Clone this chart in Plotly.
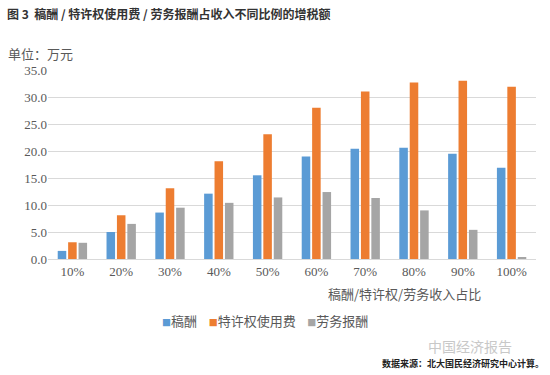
import plotly.graph_objects as go

categories = ["10%", "20%", "30%", "40%", "50%", "60%", "70%", "80%", "90%", "100%"]
gaochou = [1.5, 5.0, 8.6, 12.1, 15.5, 19.0, 20.4, 20.6, 19.5, 16.9]
texuquan = [3.1, 8.1, 13.1, 18.1, 23.1, 28.0, 31.0, 32.7, 33.0, 31.9]
laowu = [3.0, 6.5, 9.5, 10.4, 11.4, 12.4, 11.3, 9.0, 5.4, 0.2]
series_names = ["稿酬", "特许权使用费", "劳务报酬"]
colors = ["#5B9BD5", "#ED7D31", "#A5A5A5"]

serif = "Liberation Serif, DejaVu Serif, Noto Sans CJK SC, serif"
cjk = "Noto Sans CJK SC"

fig = go.Figure()
for name, vals, c in zip(series_names, [gaochou, texuquan, laowu], colors):
    fig.add_trace(go.Bar(x=categories, y=vals, name=name, marker=dict(color=c, line=dict(width=0))))

fig.update_layout(
    width=550, height=375,
    margin=dict(l=48, r=14, t=70, b=116),
    paper_bgcolor="white", plot_bgcolor="white",
    barmode="group", bargap=0.36, bargroupgap=0.18,
    showlegend=False,
    font=dict(family=serif, color="#595959"),
)
fig.update_xaxes(showgrid=False, showline=True, linecolor="#D9D9D9", ticks="",
                 tickfont=dict(family=serif, size=13, color="#595959"))
fig.update_yaxes(range=[0, 35], dtick=5, tickformat=".1f", showgrid=True, gridcolor="#D9D9D9",
                 zeroline=False, showline=False, ticks="",
                 tickfont=dict(family=serif, size=13, color="#595959"))

# legend built as text with coloured squares
legend_text = "&nbsp;&nbsp;&nbsp;&nbsp;".join(
    f"<span style='color:{c};font-size:9px'>■</span>{n}" for n, c in zip(series_names, colors)
)
fig.add_annotation(xref="paper", yref="paper", x=0.445, y=-0.323, xanchor="center", yanchor="middle",
                   text=legend_text, showarrow=False, font=dict(family=cjk, size=13, color="#595959"))

fig.add_annotation(xref="paper", yref="paper", x=-0.088, y=1.30, xanchor="left", yanchor="middle",
                   text="<b>图 3  稿酬 / 特许权使用费 / 劳务报酬占收入不同比例的增税额</b>",
                   showarrow=False, font=dict(family=cjk, size=12, color="#333333"))
fig.add_annotation(xref="paper", yref="paper", x=-0.086, y=1.085, xanchor="left", yanchor="middle",
                   text="单位：万元", showarrow=False, font=dict(family=cjk, size=13, color="#595959"))
fig.add_annotation(xref="paper", yref="paper", x=0.892, y=-0.18, xanchor="right", yanchor="middle",
                   text="稿酬/特许权/劳务收入占比", showarrow=False, font=dict(family=cjk, size=13, color="#595959"))
fig.add_annotation(xref="paper", yref="paper", x=0.955, y=-0.46, xanchor="right", yanchor="middle",
                   text="中国经济报告", showarrow=False, font=dict(family=cjk, size=14, color="#C8C8C8"))
fig.add_annotation(xref="paper", yref="paper", x=1.02, y=-0.552, xanchor="right", yanchor="middle",
                   text="<b>数据来源：北大国民经济研究中心计算。</b>", showarrow=False,
                   font=dict(family=cjk, size=9, color="#222222"))

fig.write_html("out.html", config={"displayModeBar": False},
               post_script="document.body.style.margin='0px';")
